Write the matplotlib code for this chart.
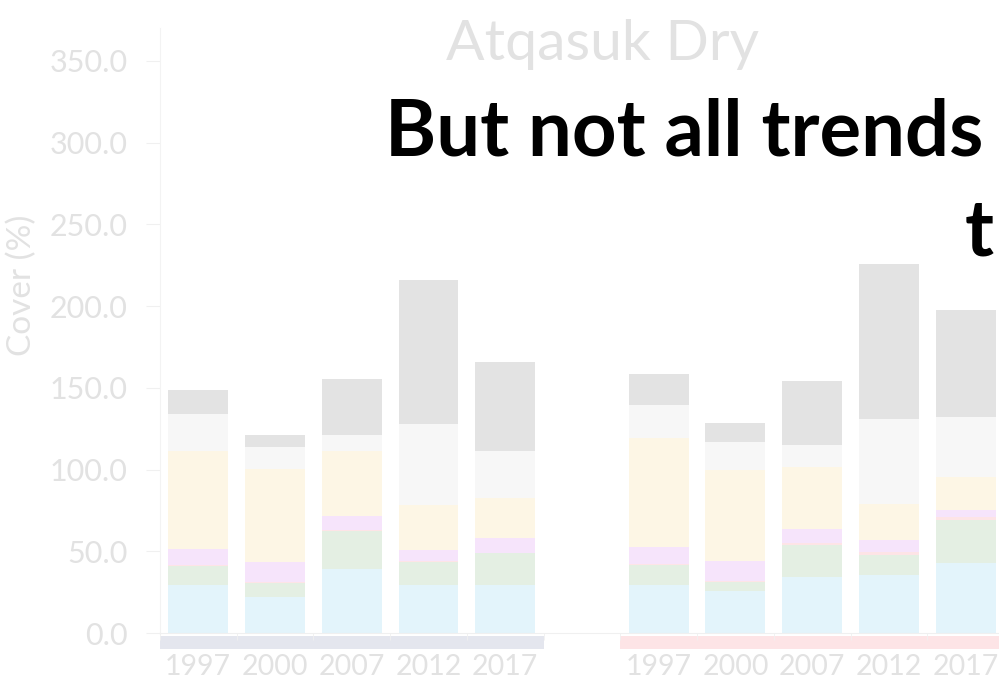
import matplotlib
matplotlib.use("Agg")
import matplotlib.pyplot as plt
import matplotlib.transforms as mtransforms
from matplotlib.patches import Rectangle
import numpy as np

# ---- data (cover %, stacked bottom -> top) ----
years = ["1997", "2000", "2007", "2012", "2017"]
positions = [0, 1, 2, 3, 4, 6, 7, 8, 9, 10]
tick_labels = years + years

blue = [29.4, 22.2, 39.2, 29.4, 29.4, 29.4, 25.7, 34.5, 35.5, 42.7]
green = [11.7, 8.7, 23.4, 14.2, 19.3, 11.9, 5.8, 19.4, 12.3, 26.5]
pink = [0.5, 0.5, 0.5, 0.5, 0.5, 1.0, 0.5, 1.0, 2.0, 2.0]
lavender = [9.8, 12.1, 8.7, 6.7, 8.8, 10.2, 12.3, 9.0, 7.2, 4.0]
cream = [60.0, 56.7, 39.6, 27.2, 24.5, 66.7, 55.5, 37.6, 21.8, 20.4]
light_gray = [22.5, 13.3, 9.8, 49.8, 29.1, 20.4, 17.0, 13.6, 52.2, 36.3]
gray = [15.0, 7.6, 34.3, 88.4, 53.9, 18.8, 11.6, 38.8, 94.5, 65.5]

layers = [blue, green, pink, lavender, cream, light_gray, gray]
layer_colors = ["#e3f4fb", "#e4efe3", "#fde4e6", "#f6e4fb", "#fdf6e5", "#f7f7f7", "#e3e3e3"]

# group underline spans (category index ranges)
groups = [(-0.5, 4.5, "#e4e6ee"), (5.5, 10.5, "#fde4e6")]

faint = "#e2e2e2"

fig = plt.figure(figsize=(9.99, 6.91), dpi=100)
ax = fig.add_axes([0.160, 0.0839, 0.845, 0.8755])

bottom = np.zeros(len(positions))
for vals, col in zip(layers, layer_colors):
    ax.bar(positions, vals, bottom=bottom, width=0.78, color=col, edgecolor="none")
    bottom += np.array(vals)

ax.set_xlim(-0.5, 10.5)
ax.set_ylim(0, 370)
ax.set_yticks(np.arange(0, 351, 50))
ax.set_yticklabels([f"{v:.1f}" for v in np.arange(0, 351, 50)])
ax.set_xticks(positions)
ax.set_xticklabels(tick_labels)
ax.set_xticks([-0.5, 0.5, 1.5, 2.5, 3.5, 4.5, 5.5, 6.5, 7.5, 8.5, 9.5, 10.5], minor=True)

for side in ("top", "right"):
    ax.spines[side].set_visible(False)
ax.spines["left"].set_color("#f3f3f3")
ax.spines["bottom"].set_color("#f0f0f0")
ax.tick_params(axis="y", colors="#f0f0f0", labelcolor=faint, labelsize=22, length=10, pad=13)
ax.tick_params(axis="x", which="major", length=0, labelcolor=faint, labelsize=20.5, pad=15)
ax.tick_params(axis="x", which="minor", length=5, color="#f0f0f0")
for lab in ax.get_xticklabels() + ax.get_yticklabels():
    lab.set_fontfamily("Lato")

trans = mtransforms.blended_transform_factory(ax.transData, ax.transAxes)
for x0, x1, col in groups:
    ax.add_patch(Rectangle((x0, -0.026), x1 - x0, 0.021, transform=trans,
                           facecolor=col, edgecolor="none", clip_on=False))

fig.text(22 / 999, 1 - 285 / 691, "Cover (%)", rotation=90, ha="center", va="center",
         fontsize=24, color=faint, family="Lato")
fig.text(602 / 999, 1 - 45 / 691, "Atqasuk Dry", ha="center", va="center",
         fontsize=41, color="#e2e2e2", family="Lato")

# overlaid slide text
fig.text(385 / 999, 1 - 155 / 691, "But not all trends", ha="left", va="baseline",
         fontsize=56, fontweight="bold", color="black", family="Lato")
fig.text(994 / 999, 1 - 255 / 691, "t", ha="right", va="baseline",
         fontsize=56, fontweight="bold", color="black", family="Lato")

fig.savefig("out.png", dpi=100, facecolor="white")
